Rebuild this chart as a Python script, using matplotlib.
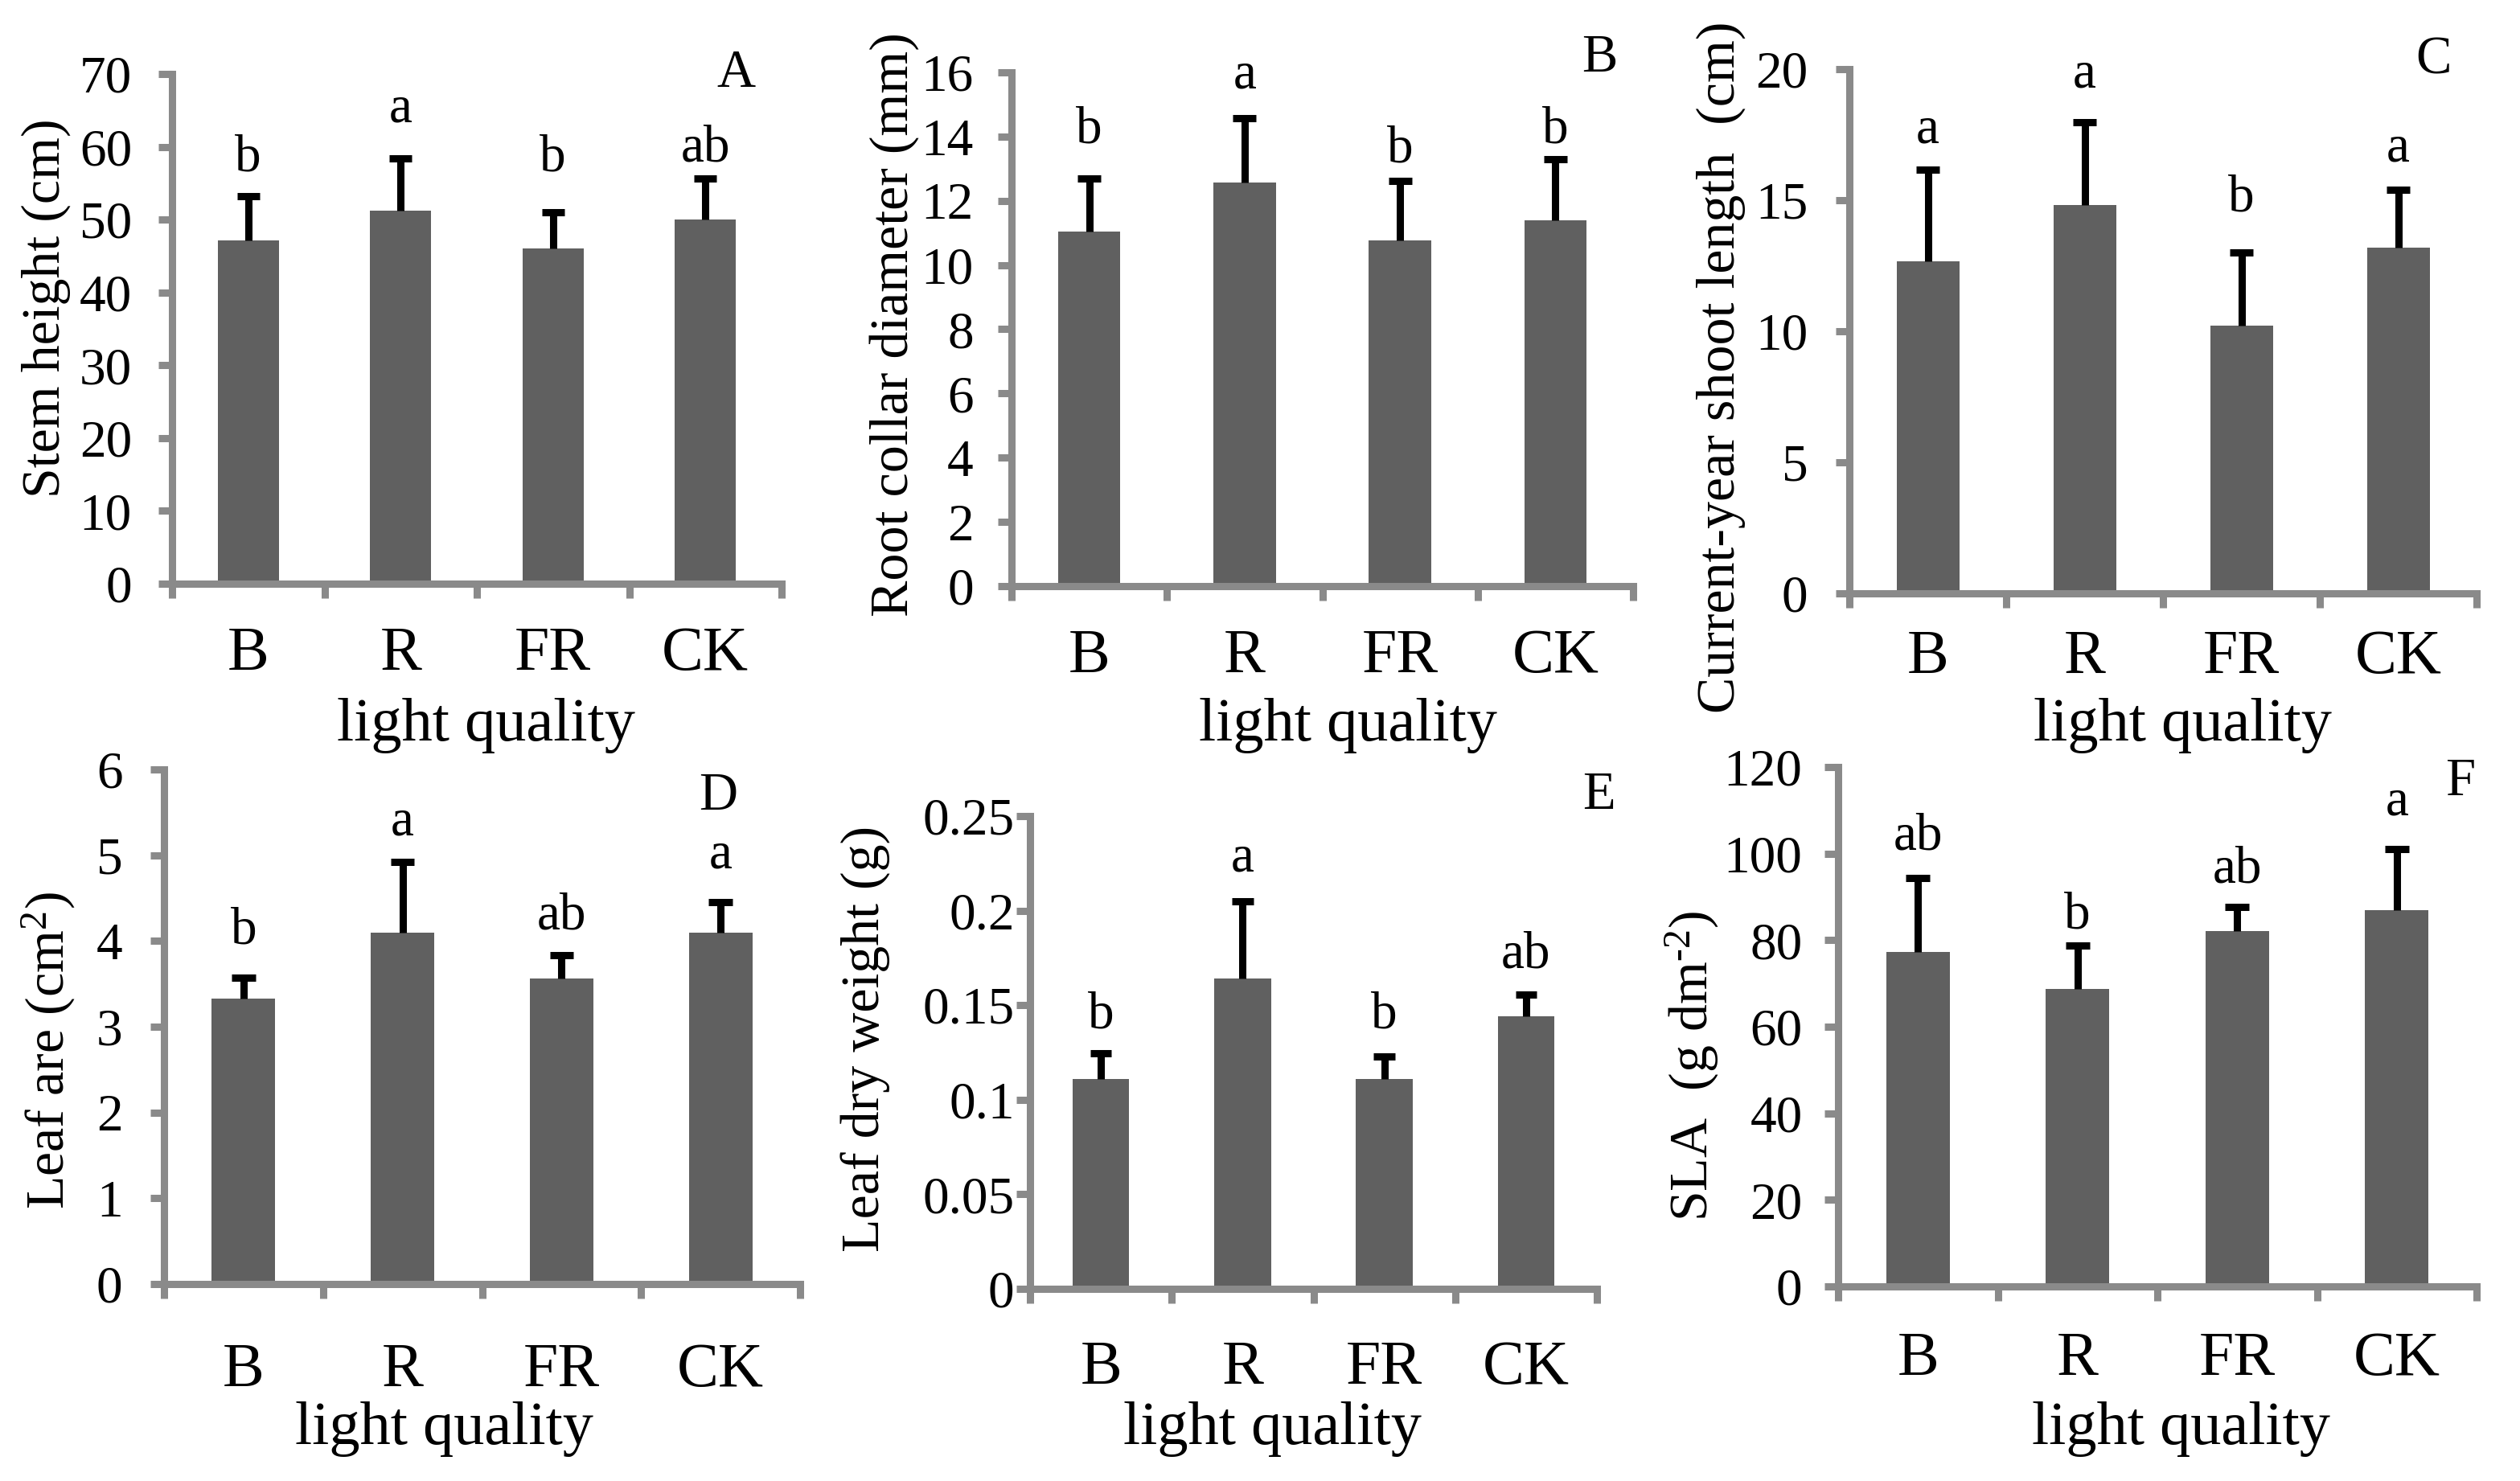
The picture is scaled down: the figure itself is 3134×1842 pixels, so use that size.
import matplotlib
matplotlib.use("Agg")
import matplotlib.pyplot as plt
import numpy as np
from matplotlib.ticker import FormatStrFormatter, MultipleLocator

plt.rcParams["font.family"] = ["Liberation Serif", "DejaVu Serif"]
plt.rcParams["mathtext.fontset"] = "custom"
plt.rcParams["mathtext.rm"] = "Liberation Serif"
plt.rcParams["mathtext.it"] = "Liberation Serif:italic"

categories = ["B", "R", "FR", "CK"]

# A - stem height (cm)
stem_height = [47.2, 51.2, 46.0, 50.0]
stem_height_err = [6.0, 7.2, 5.0, 5.7]
stem_height_sig = ["b", "a", "b", "ab"]
stem_height_sig_y = [56.7, 63.4, 56.7, 58.0]

# B - root collar diameter (mm)
root_collar = [11.05, 12.58, 10.76, 11.4]
root_collar_err = [1.65, 2.0, 1.85, 1.9]
root_collar_sig = ["b", "a", "b", "b"]
root_collar_sig_y = [13.8, 15.5, 13.2, 13.8]

# C - current-year shoot length (cm)
shoot_length = [12.68, 14.83, 10.2, 13.2]
shoot_length_err = [3.5, 3.15, 2.8, 2.2]
shoot_length_sig = ["a", "a", "b", "a"]
shoot_length_sig_y = [17.2, 19.3, 14.6, 16.5]

# D - leaf area (cm2)
leaf_area = [3.33, 4.10, 3.56, 4.10]
leaf_area_err = [0.24, 0.82, 0.27, 0.35]
leaf_area_sig = ["b", "a", "ab", "a"]
leaf_area_sig_y = [3.97, 5.24, 4.14, 4.85]

# E - leaf dry weight (g)
leaf_dry_weight = [0.111, 0.164, 0.111, 0.144]
leaf_dry_weight_err = [0.0135, 0.041, 0.012, 0.0115]
leaf_dry_weight_sig = ["b", "a", "b", "ab"]
leaf_dry_weight_sig_y = [0.138, 0.2207, 0.138, 0.170]

# F - SLA (g dm-2)
sla = [77.3, 68.7, 82.1, 86.9]
sla_err = [17.1, 10.1, 5.6, 14.2]
sla_sig = ["ab", "b", "ab", "a"]
sla_sig_y = [101.0, 82.7, 93.3, 108.9]

W, H = 3134, 1842
BAR = "#606060"
AXIS = "#8a8a8a"

panels = [
    dict(tag="A", ylabel="Stem height (cm)", mean=stem_height, err=stem_height_err,
         sig=stem_height_sig, sig_y=stem_height_sig_y, ymax=70, step=10, fmt="%d",
         box=(214, 972, 92, 726), ylab=(-0.207, 0.541), xlab=(0.515, -0.278),
         tag_xy=(0.925, 1.0), xpad=38, ypad=24),
    dict(tag="B", ylabel="Root collar diameter (mm)", mean=root_collar, err=root_collar_err,
         sig=root_collar_sig, sig_y=root_collar_sig_y, ymax=16, step=2, fmt="%d",
         box=(1258, 2031, 90, 729), ylab=(-0.189, 0.509), xlab=(0.541, -0.271),
         tag_xy=(0.946, 1.027), xpad=38, ypad=22),
    dict(tag="C", ylabel="Current-year shoot length  (cm)", mean=shoot_length,
         err=shoot_length_err, sig=shoot_length_sig, sig_y=shoot_length_sig_y,
         ymax=20, step=5, fmt="%d",
         box=(2300, 3080, 86, 738), ylab=(-0.205, 0.432), xlab=(0.531, -0.252),
         tag_xy=(0.931, 1.017), xpad=32, ypad=25),
    dict(tag="D", ylabel="Leaf are (cm$^{2}$)", mean=leaf_area, err=leaf_area_err,
         sig=leaf_area_sig, sig_y=leaf_area_sig_y, ymax=6, step=1, fmt="%d",
         box=(204, 995, 957, 1597), ylab=(-0.181, 0.453), xlab=(0.44, -0.282),
         tag_xy=(0.871, 0.948), xpad=52, ypad=25),
    dict(tag="E", ylabel="Leaf dry weight (g)", mean=leaf_dry_weight,
         err=leaf_dry_weight_err, sig=leaf_dry_weight_sig, sig_y=leaf_dry_weight_sig_y,
         ymax=0.25, step=0.05, fmt="%g",
         box=(1281, 1986, 1015, 1603), ylab=(-0.289, 0.529), xlab=(0.427, -0.296),
         tag_xy=(1.004, 1.043), xpad=46, ypad=2),
    dict(tag="F", ylabel="SLA  (g dm$^{\\text{-}2}$)", mean=sla, err=sla_err,
         sig=sla_sig, sig_y=sla_sig_y, ymax=120, step=20, fmt="%d",
         box=(2286, 3080, 954, 1600), ylab=(-0.228, 0.424), xlab=(0.537, -0.274),
         tag_xy=(0.974, 0.972), xpad=40, ypad=20),
]


def draw_panel(fig, p):
    left, right, top, bottom = p["box"]
    ax = fig.add_axes([left / W, 1 - bottom / H, (right - left) / W, (bottom - top) / H])

    x = np.arange(len(categories))
    mean = np.array(p["mean"])
    err = np.array(p["err"])

    ax.bar(x, mean, width=0.4, color=BAR, zorder=2)
    # upper error bar only, with a cap
    ax.vlines(x, mean, mean + err, color="black", linewidth=6.5, zorder=3)
    ax.hlines(mean + err, x - 0.075, x + 0.075, color="black", linewidth=6.5, zorder=3)

    for xi, s, sy in zip(x, p["sig"], p["sig_y"]):
        ax.text(xi, sy, s, ha="center", va="baseline", fontsize=47)

    ax.set_xlim(-0.5, len(categories) - 0.5)
    ax.set_ylim(0, p["ymax"])
    ax.yaxis.set_major_locator(MultipleLocator(p["step"]))
    ax.yaxis.set_major_formatter(FormatStrFormatter(p["fmt"]))

    ax.set_xticks(x)
    ax.set_xticklabels(categories)
    ax.set_xticks(np.arange(len(categories) + 1) - 0.5, minor=True)

    for side in ["top", "right"]:
        ax.spines[side].set_visible(False)
    for side in ["left", "bottom"]:
        ax.spines[side].set_color(AXIS)
        ax.spines[side].set_linewidth(6.5)

    ax.tick_params(axis="y", direction="out", length=12, width=6.5, color=AXIS,
                   labelsize=47, pad=p["ypad"])
    ax.tick_params(axis="x", which="major", length=0, labelsize=56, pad=p["xpad"])
    ax.tick_params(axis="x", which="minor", direction="out", length=13, width=6.5, color=AXIS)

    ax.set_ylabel(p["ylabel"], fontsize=49, va="center")
    ax.yaxis.set_label_coords(*p["ylab"])
    ax.set_xlabel("light quality", fontsize=55, va="center")
    ax.xaxis.set_label_coords(*p["xlab"])

    ax.text(p["tag_xy"][0], p["tag_xy"][1], p["tag"], transform=ax.transAxes,
            ha="center", va="center", fontsize=48)
    return ax


fig = plt.figure(figsize=(W / 100, H / 100), dpi=100)
for p in panels:
    draw_panel(fig, p)

fig.savefig("out.png", dpi=100, facecolor="white")
